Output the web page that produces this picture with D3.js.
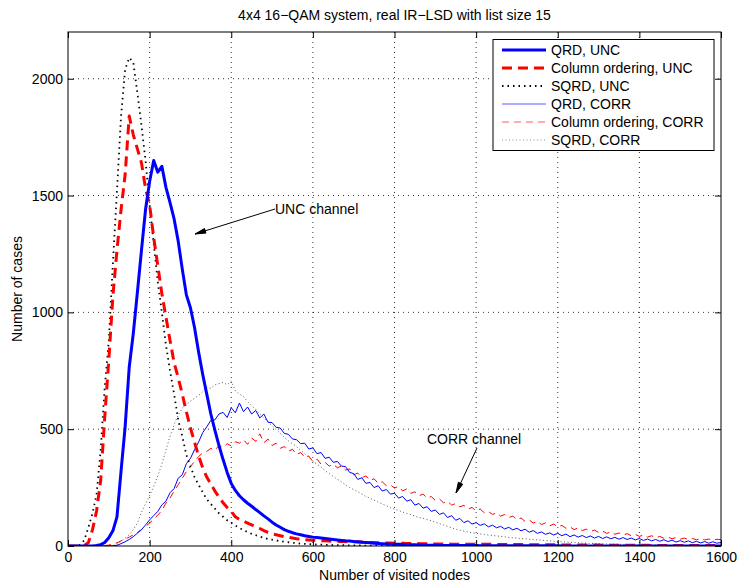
<!DOCTYPE html>
<meta charset="utf-8">
<html>
<head>
<title>IR-LSD visited nodes</title>
<script src="https://d3js.org/d3.v7.min.js"></script>
<style>
  body { margin: 0; background: #fff; }
  text { font-family: "Liberation Sans", Arial, Helvetica, sans-serif; fill: #000; }
</style>
</head>
<body>
<script type="text/javascript">

// histogram bins (number of visited nodes), one value every 10 nodes
var nodes = d3.range(0, 1601, 10);

// QRD, UNC  (blue, thick)
var qrdUnc = [
  0, 0, 0, 0, 0, 0, 0, 2, 6, 15,
  35, 65, 125, 320, 510, 765, 910, 1085, 1265, 1440,
  1560, 1650, 1600, 1625, 1535, 1470, 1400, 1305, 1185, 1075,
  1020, 935, 830, 735, 650, 565, 495, 430, 370, 315,
  268, 238, 215, 198, 183, 170, 156, 143, 129, 116,
  102, 90, 80, 70, 63, 57, 52, 48, 44, 41,
  38, 36, 34, 32, 30, 28, 26, 24, 22, 21,
  19, 18, 16, 15, 14, 12, 11, 10, 9, 8,
  8, 7, 6, 6, 5, 5, 4, 4, 3, 3,
  3, 2, 2, 2, 2, 2, 2, 2, 2, 2,
  2, 1, 1, 1, 1, 1, 1, 1, 1, 1,
  1, 1, 1, 1, 1, 1, 1, 1, 1, 1,
  1, 0, 0, 0, 0, 0, 0, 0, 0, 0,
  0, 0, 0, 0, 0, 0, 0, 0, 0, 0,
  0, 0, 0, 0, 0, 0, 0, 0, 0, 0,
  0, 0, 0, 0, 0, 0, 0, 0, 0, 0,
  0
];

// Column ordering, UNC  (red, thick dashed)
var coUnc = [
  0, 0, 0, 0, 2, 15, 70, 150, 280, 550,
  797, 1070, 1266, 1440, 1590, 1840, 1760, 1700, 1640, 1530,
  1460, 1320, 1200, 1080, 980, 880, 785, 720, 650, 575,
  505, 445, 385, 335, 295, 265, 235, 210, 185, 165,
  148, 125, 113, 106, 98, 90, 84, 75, 66, 58,
  52, 48, 44, 40, 37, 34, 31, 29, 27, 26,
  25, 24, 23, 22, 21, 20, 20, 19, 19, 18,
  18, 17, 17, 16, 15, 15, 14, 14, 13, 13,
  12, 12, 12, 11, 11, 11, 10, 10, 10, 9,
  9, 9, 9, 9, 8, 8, 8, 8, 8, 8,
  8, 7, 7, 7, 7, 7, 6, 6, 6, 6,
  6, 6, 5, 5, 5, 5, 5, 5, 5, 5,
  5, 4, 4, 4, 4, 4, 4, 4, 4, 4,
  4, 3, 3, 3, 3, 3, 3, 3, 3, 3,
  3, 3, 3, 2, 2, 2, 2, 2, 2, 2,
  2, 2, 2, 2, 2, 2, 2, 2, 2, 2,
  2
];

// SQRD, UNC  (black, dotted)
var sqrdUnc = [
  0, 0, 0, 5, 25, 80, 140, 220, 410, 680,
  880, 1210, 1520, 1840, 2040, 2090, 2070, 1940, 1800, 1650,
  1460, 1296, 1130, 1000, 860, 750, 650, 540, 470, 390,
  340, 295, 262, 230, 200, 180, 160, 140, 125, 110,
  100, 88, 78, 68, 60, 52, 46, 40, 35, 30,
  27, 24, 21, 18, 16, 14, 12, 10, 9, 8,
  7, 6, 6, 5, 5, 4, 4, 4, 3, 3,
  3, 3, 2, 2, 2, 2, 2, 2, 2, 2,
  2, 1, 1, 1, 1, 1, 1, 1, 1, 1,
  1, 0, 0, 0, 0, 0, 0, 0, 0, 0,
  0, 0, 0, 0, 0, 0, 0, 0, 0, 0,
  0, 0, 0, 0, 0, 0, 0, 0, 0, 0,
  0, 0, 0, 0, 0, 0, 0, 0, 0, 0,
  0, 0, 0, 0, 0, 0, 0, 0, 0, 0,
  0, 0, 0, 0, 0, 0, 0, 0, 0, 0,
  0, 0, 0, 0, 0, 0, 0, 0, 0, 0,
  0
];

// QRD, CORR  (blue, thin)
var qrdCorr = [
  0, 0, 0, 0, 0, 0, 0, 0, 0, 0,
  0, 1, 3, 10, 18, 28, 40, 55, 70, 90,
  112, 130, 148, 176, 192, 228, 246, 290, 305, 352,
  375, 412, 445, 485, 510, 538, 540, 565, 572, 550,
  592, 570, 612, 575, 595, 565, 580, 548, 565, 530,
  528, 508, 505, 482, 478, 458, 455, 438, 440, 415,
  420, 395, 400, 375, 380, 358, 362, 342, 340, 315,
  310, 285, 292, 268, 272, 250, 258, 235, 242, 222,
  226, 205, 212, 192, 198, 175, 182, 162, 168, 148,
  154, 135, 142, 122, 130, 110, 118, 100, 108, 94,
  100, 88, 95, 82, 89, 78, 84, 73, 80, 69,
  76, 65, 72, 59, 66, 54, 60, 50, 56, 47,
  54, 44, 51, 40, 47, 38, 45, 36, 43, 34,
  41, 32, 39, 31, 37, 29, 36, 28, 34, 26,
  32, 24, 30, 22, 28, 20, 27, 19, 25, 17,
  23, 16, 22, 14, 20, 13, 19, 12, 18, 12,
  15
];

// Column ordering, CORR  (red, thin dashed)
var coCorr = [
  0, 0, 0, 0, 0, 0, 0, 0, 0, 2,
  4, 8, 14, 22, 30, 38, 48, 58, 70, 84,
  98, 115, 132, 152, 184, 205, 235, 262, 290, 318,
  340, 362, 383, 398, 405, 418, 410, 430, 422, 438,
  428, 446, 440, 455, 435, 462, 448, 480, 442, 458,
  430, 440, 418, 426, 405, 414, 392, 400, 380, 385,
  362, 372, 350, 358, 342, 350, 335, 342, 325, 330,
  305, 312, 292, 300, 280, 288, 268, 275, 258, 262,
  248, 255, 236, 244, 225, 232, 215, 222, 205, 212,
  195, 202, 185, 192, 175, 182, 168, 174, 158, 165,
  150, 158, 142, 148, 135, 142, 128, 135, 122, 128,
  112, 120, 105, 112, 98, 106, 92, 99, 86, 94,
  82, 88, 76, 82, 70, 78, 66, 72, 62, 68,
  58, 64, 54, 60, 50, 56, 47, 53, 44, 50,
  41, 47, 38, 44, 35, 41, 33, 38, 31, 36,
  29, 34, 28, 32, 27, 31, 26, 30, 25, 29,
  27
];

// SQRD, CORR  (black, thin dotted)
var sqrdCorr = [
  0, 0, 0, 0, 0, 0, 0, 0, 0, 0,
  0, 2, 8, 20, 34, 48, 70, 98, 145, 180,
  215, 255, 300, 350, 410, 470, 520, 560, 590, 605,
  620, 632, 645, 660, 680, 675, 690, 695, 700, 690,
  705, 665, 650, 640, 618, 600, 585, 565, 548, 530,
  515, 498, 482, 465, 450, 438, 425, 410, 395, 380,
  362, 350, 338, 322, 310, 298, 285, 275, 262, 250,
  242, 232, 222, 212, 205, 196, 188, 180, 172, 164,
  158, 152, 145, 140, 134, 128, 122, 118, 113, 108,
  102, 96, 90, 84, 78, 72, 68, 64, 60, 56,
  54, 52, 49, 47, 45, 43, 41, 39, 37, 35,
  34, 32, 31, 29, 28, 26, 25, 23, 22, 20,
  19, 18, 17, 16, 15, 14, 13, 12, 11, 11,
  10, 9, 9, 8, 8, 7, 7, 6, 6, 6,
  5, 5, 5, 4, 4, 4, 4, 3, 3, 3,
  3, 3, 2, 2, 2, 2, 2, 2, 2, 2,
  2
];

var legendLabels = ["QRD, UNC", "Column ordering, UNC", "SQRD, UNC",
                    "QRD, CORR", "Column ordering, CORR", "SQRD, CORR"];
var xTicks = [0, 200, 400, 600, 800, 1000, 1200, 1400, 1600];
var yTicks = [0, 500, 1000, 1500, 2000];

// line styles, same order as the legend
var series = [
  { values: qrdUnc,   color: "#0000ff", width: 3,   dash: null },
  { values: coUnc,    color: "#ff0000", width: 3,   dash: "10,6" },
  { values: sqrdUnc,  color: "#000000", width: 1.8, dash: "1.5,4" },
  { values: qrdCorr,  color: "#0000ff", width: 1,   dash: null },
  { values: coCorr,   color: "#ff0000", width: 1,   dash: "7,5" },
  { values: sqrdCorr, color: "#444444", width: 0.9, dash: "1,2.5" }
];

var width = 740, height = 585;
var margin = { left: 68, right: 19, top: 32, bottom: 39 };
var plotW = width - margin.left - margin.right;
var plotH = height - margin.top - margin.bottom;

var svg = d3.select("body").append("svg")
  .attr("width", width)
  .attr("height", height);

var x = d3.scaleLinear().domain([0, 1600]).range([0, plotW]);
var y = d3.scaleLinear().domain([0, 2200]).range([plotH, 0]);

var g = svg.append("g")
  .attr("transform", "translate(" + margin.left + "," + margin.top + ")");

// dotted grid
g.selectAll(".gx").data(xTicks.slice(1, -1)).enter().append("line")
  .attr("x1", function(d) { return x(d); }).attr("x2", function(d) { return x(d); })
  .attr("y1", 0).attr("y2", plotH)
  .style("stroke", "#000").style("stroke-width", 0.8).style("stroke-dasharray", "1,4");
g.selectAll(".gy").data(yTicks.slice(1)).enter().append("line")
  .attr("x1", 0).attr("x2", plotW)
  .attr("y1", function(d) { return y(d); }).attr("y2", function(d) { return y(d); })
  .style("stroke", "#000").style("stroke-width", 0.8).style("stroke-dasharray", "1,4");

// clip curves to the axes box
svg.append("defs").append("clipPath").attr("id", "clip")
  .append("rect").attr("width", plotW).attr("height", plotH);

var line = d3.line()
  .x(function(d, i) { return x(nodes[i]); })
  .y(function(d) { return y(d); });

// draw CORR curves first, then UNC on top
var order = [5, 4, 3, 2, 1, 0];
g.append("g").attr("clip-path", "url(#clip)")
  .selectAll("path").data(order.map(function(k) { return series[k]; }))
  .enter().append("path")
  .attr("d", function(s) { return line(s.values); })
  .style("fill", "none")
  .style("stroke", function(s) { return s.color; })
  .style("stroke-width", function(s) { return s.width; })
  .style("stroke-dasharray", function(s) { return s.dash; })
  .style("stroke-linejoin", "round");

// axes, MATLAB style: ticks inside on all four sides
var fmt = d3.format("d");
var xAxis = d3.axisBottom(x).tickValues(xTicks).tickFormat(fmt).tickSizeInner(-6).tickSizeOuter(0).tickPadding(6);
var yAxis = d3.axisLeft(y).tickValues(yTicks).tickFormat(fmt).tickSizeInner(-6).tickSizeOuter(0).tickPadding(5);

g.append("g").attr("transform", "translate(0," + plotH + ")").call(xAxis);
g.append("g").call(yAxis);
g.append("g").call(d3.axisTop(x).tickValues(xTicks).tickSizeInner(-6).tickSizeOuter(0).tickFormat(""));
g.append("g").attr("transform", "translate(" + plotW + ",0)")
  .call(d3.axisRight(y).tickValues(yTicks).tickSizeInner(-6).tickSizeOuter(0).tickFormat(""));

svg.selectAll(".domain").remove();
svg.selectAll(".tick line").style("stroke", "#000");
svg.selectAll(".tick text").style("font-size", "14px")
  .style("font-family", "'Liberation Sans', Arial, sans-serif");

g.append("rect").attr("width", plotW).attr("height", plotH)
  .style("fill", "none").style("stroke", "#000").style("stroke-width", 1);

// title and axis labels
svg.append("text")
  .attr("x", margin.left + plotW / 2).attr("y", 20)
  .attr("text-anchor", "middle").style("font-size", "14px")
  .text("4x4 16\u2212QAM system, real IR\u2212LSD with list size 15");

svg.append("text")
  .attr("x", margin.left + plotW / 2).attr("y", 580)
  .attr("text-anchor", "middle").style("font-size", "14px")
  .text("Number of visited nodes");

svg.append("text")
  .attr("transform", "translate(22," + (margin.top + plotH / 2) + ") rotate(-90)")
  .attr("text-anchor", "middle").style("font-size", "14px")
  .text("Number of cases");

// annotations with arrows
function arrow(x1, y1, x2, y2) {
  var a = Math.atan2(y2 - y1, x2 - x1), len = 11, spread = 0.22;
  svg.append("line").attr("x1", x1).attr("y1", y1).attr("x2", x2).attr("y2", y2)
    .style("stroke", "#000").style("stroke-width", 1);
  svg.append("path")
    .attr("d", "M" + (x2 - len * Math.cos(a - spread)) + "," + (y2 - len * Math.sin(a - spread)) +
               "L" + x2 + "," + y2 +
               "L" + (x2 - len * Math.cos(a + spread)) + "," + (y2 - len * Math.sin(a + spread)) + "Z")
    .style("fill", "#000").style("stroke", "#000").style("stroke-width", 1);
}

svg.append("text").attr("x", 275).attr("y", 214).style("font-size", "14px").text("UNC channel");
arrow(275, 209, 195, 234);

svg.append("text").attr("x", 427).attr("y", 444).style("font-size", "14px").text("CORR channel");
arrow(477, 448, 456, 493);

// legend
var legend = svg.append("g");
legend.append("rect")
  .attr("x", 493).attr("y", 39.5).attr("width", 221).attr("height", 111)
  .style("fill", "#fff").style("stroke", "#000").style("stroke-width", 1);

var rows = legend.selectAll(".row").data(series).enter().append("g")
  .attr("transform", function(d, i) { return "translate(0," + (50 + i * 18) + ")"; });

rows.append("line")
  .attr("x1", 502).attr("x2", 546).attr("y1", 0).attr("y2", 0)
  .style("stroke", function(s, i) { return i < 3 ? s.color : d3.interpolateRgb(s.color, "#fff")(0.35); })
  .style("stroke-width", function(s) { return s.width; })
  .style("stroke-dasharray", function(s) { return s.dash; });

rows.append("text")
  .attr("x", 551).attr("y", 5)
  .style("font-size", "14px")
  .text(function(d, i) { return legendLabels[i]; });

</script>
</body>
</html>
